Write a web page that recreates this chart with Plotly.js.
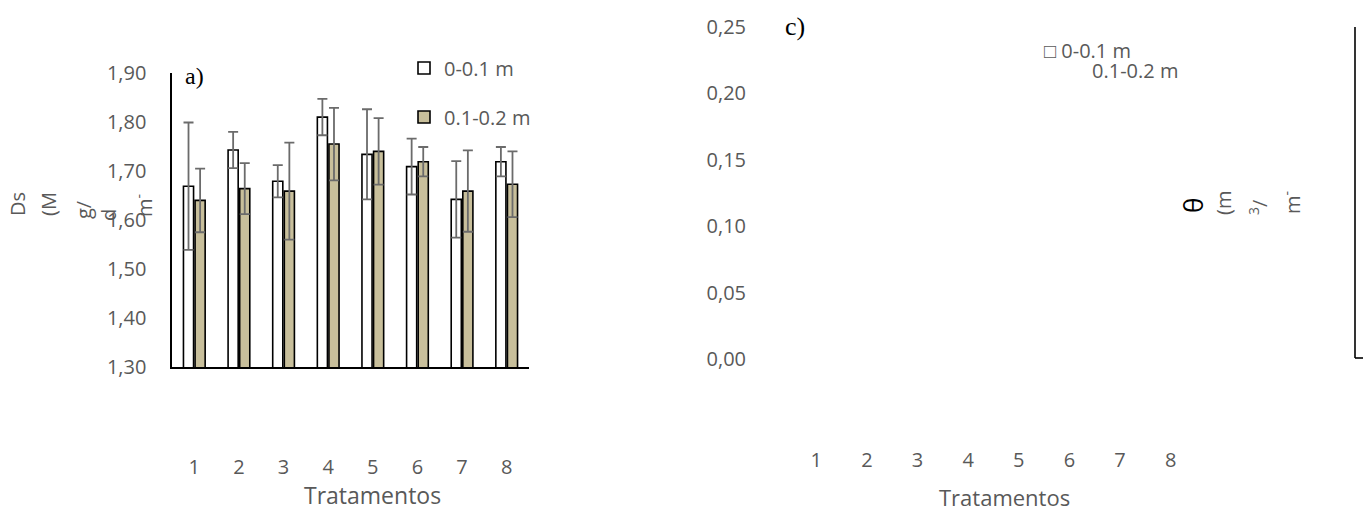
<!DOCTYPE html>
<html>
<head>
<meta charset="utf-8">
<script src="https://cdn.plot.ly/plotly-3.0.1.min.js"></script>
<style>html,body{margin:0;padding:0;background:#fff;}#chart{width:1363px;height:512px;}</style>
</head>
<body>
<div id="chart"></div>
<script>
// ---- Data ----
const categories = ['1', '2', '3', '4', '5', '6', '7', '8'];
const seriesNames = ['0-0.1 m', '0.1-0.2 m'];
// Panel a) Ds (Mg/dm3)
const ds_0_10 = [1.669, 1.743, 1.679, 1.810, 1.734, 1.709, 1.642, 1.719];
const ds_0_10_err = [0.130, 0.037, 0.033, 0.037, 0.092, 0.057, 0.078, 0.030];
const ds_10_20 = [1.640, 1.664, 1.659, 1.755, 1.740, 1.719, 1.659, 1.673];
const ds_10_20_err = [0.065, 0.052, 0.099, 0.074, 0.068, 0.030, 0.083, 0.067];
// Panel c) theta (m3/m3) - no bars visible in the reference
const theta_0_10 = [null, null, null, null, null, null, null, null];
const theta_10_20 = [null, null, null, null, null, null, null, null];

// ---- helpers: pixel -> paper ----
const W = 1363, H = 512;
const px = x => x / W;
const py = y => 1 - y / H;

const GRAY = '#595959';
const FONT = 'Open Sans';
const TAN = '#c8bf9b';
const errStyle = {type: 'data', visible: true, color: '#6b6b6b', thickness: 1.8, width: 5};

const traces = [
  {type: 'bar', name: seriesNames[0], x: categories, y: ds_0_10, xaxis: 'x', yaxis: 'y',
   marker: {color: '#ffffff', line: {color: '#000000', width: 1.6}},
   error_y: Object.assign({array: ds_0_10_err}, errStyle), legend: 'legend'},
  {type: 'bar', name: seriesNames[1], x: categories, y: ds_10_20, xaxis: 'x', yaxis: 'y',
   marker: {color: TAN, line: {color: '#000000', width: 1.6}},
   error_y: Object.assign({array: ds_10_20_err}, errStyle), legend: 'legend2'},
  {type: 'bar', name: seriesNames[0], x: categories, y: theta_0_10, xaxis: 'x2', yaxis: 'y2',
   marker: {color: '#ffffff', line: {color: '#000000', width: 1.6}}, showlegend: false},
  {type: 'bar', name: seriesNames[1], x: categories, y: theta_10_20, xaxis: 'x2', yaxis: 'y2',
   marker: {color: TAN, line: {color: '#000000', width: 1.6}}, showlegend: false}
];

const tickFont = {family: FONT, size: 20, color: GRAY};
const legendBase = {
  font: {family: FONT, size: 20, color: GRAY}, bgcolor: 'rgba(0,0,0,0)',
  xanchor: 'left', yanchor: 'middle', itemclick: false, itemdoubleclick: false
};

const ann = (text, x, y, size, color, angle, family) => ({
  text: text, x: px(x), y: py(y), xref: 'paper', yref: 'paper', showarrow: false,
  xanchor: 'center', yanchor: 'middle', textangle: angle || 0,
  font: {family: family || FONT, size: size, color: color}
});

const layout = {
  width: W, height: H,
  margin: {l: 0, r: 0, t: 0, b: 0, pad: 0},
  paper_bgcolor: '#ffffff', plot_bgcolor: 'rgba(0,0,0,0)',
  separators: ',.',
  barmode: 'group', bargap: 0.48, bargroupgap: 0.13,
  showlegend: true,
  legend: Object.assign({x: px(404), y: py(68)}, legendBase),
  legend2: Object.assign({x: px(404), y: py(117)}, legendBase),
  xaxis: {
    domain: [px(172), px(529)], anchor: 'y', type: 'category',
    showline: true, linecolor: '#000000', linewidth: 1.6, ticks: '',
    showgrid: false, zeroline: false, tickfont: tickFont, ticklabelstandoff: 81
  },
  yaxis: {
    domain: [py(367), py(73)], anchor: 'x', range: [1.30, 1.90],
    dtick: 0.1, tick0: 1.3, tickformat: '.2f',
    showline: true, linecolor: '#000000', linewidth: 1.6, ticks: '',
    showgrid: false, zeroline: false, tickfont: tickFont, ticklabelstandoff: 20
  },
  xaxis2: {
    domain: [px(791), px(1196)], anchor: 'y2', type: 'category',
    showline: false, ticks: '', showgrid: false, zeroline: false,
    tickfont: tickFont, ticklabelstandoff: 87
  },
  yaxis2: {
    domain: [py(359), py(27)], anchor: 'x2', range: [0, 0.25],
    dtick: 0.05, tickformat: '.2f',
    showline: false, ticks: '', showgrid: false, zeroline: false,
    tickfont: tickFont, ticklabelstandoff: 44
  },
  annotations: [
    // panel labels
    ann('a)', 195, 76, 24, '#000000', 0, 'Liberation Serif'),
    ann('c)', 795, 26, 26, '#000000', 0, 'Liberation Serif'),
    // x axis titles
    ann('Tratamentos', 372, 495, 23, GRAY),
    ann('Tratamentos', 1004, 497, 22, GRAY),
    // left y axis title (wrapped into columns, rotated)
    ann('Ds', 17, 204, 20, GRAY, -90),
    ann('(M', 48, 204, 20, GRAY, -90),
    ann('g/', 83, 210, 20, GRAY, -90),
    ann('d', 108, 215, 20, GRAY, -90),
    ann('m<sup>-</sup>', 143, 206, 20, GRAY, -90),
    // right y axis title
    ann('θ', 1193, 206, 26, '#000000', -90),
    ann('(m', 1223, 203, 20, GRAY, -90),
    ann('<sup>3</sup>/', 1258, 207, 20, GRAY, -90),
    ann('m<sup>-</sup>', 1291, 203, 20, GRAY, -90),
    // right panel legend
    ann('\u25A1 0-0.1 m', 1087, 50, 20, GRAY),
    ann('0.1-0.2 m', 1135, 70, 20, GRAY)
  ],
  shapes: [
    // partial chart frame at the far right edge
    {type: 'line', xref: 'paper', yref: 'paper', x0: px(1355), x1: px(1355), y0: py(27), y1: py(358),
     line: {color: '#000000', width: 1.6}},
    {type: 'line', xref: 'paper', yref: 'paper', x0: px(1355), x1: px(1363), y0: py(358), y1: py(358),
     line: {color: '#000000', width: 1.6}}
  ]
};

Plotly.newPlot('chart', traces, layout, {displayModeBar: false, staticPlot: true});
</script>
</body>
</html>
